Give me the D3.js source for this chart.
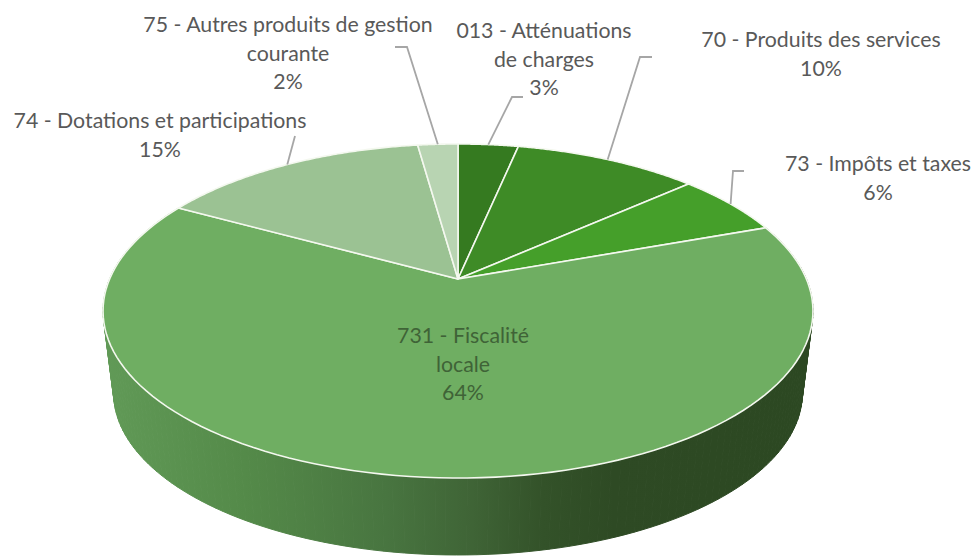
<!DOCTYPE html>
<html lang="fr">
<head>
  <meta charset="UTF-8">
  <title>Recettes de fonctionnement</title>
  <style>
  html, body { margin: 0; padding: 0; background: #fff; }
  svg { display: block; }
  .label { font: 21.3px Lato, sans-serif; fill: #595959; text-anchor: middle; }
  .leader { fill: none; stroke: #a6a6a6; stroke-width: 1.8px; }
  </style>
</head>
<body>
<script src="https://d3js.org/d3.v7.min.js"></script>
<script>
// values, slightly more precise than the printed percentages
var categories = ["013 - Atténuations de charges", "70 - Produits des services", "73 - Impôts et taxes",
  "731 - Fiscalité locale", "74 - Dotations et participations", "75 - Autres produits de gestion courante"];
var values = [3.3, 10.1, 6.1, 63.5, 14.8, 2.2];
var colors = ["#357a20", "#3e8b26", "#459f2a", "#6fae62", "#9bc293", "#b8d4b2"];

// how each category name is wrapped on the picture
var labelLines = [
  ["013 - Atténuations", "de charges"],
  ["70 - Produits des services"],
  ["73 - Impôts et taxes"],
  ["731 - Fiscalité", "locale"],
  ["74 - Dotations et participations"],
  ["75 - Autres produits de gestion", "courante"]
];
var labelX = [544, 821, 878, 463, 160, 288];
var labelY = [38, 47, 171, 343, 128, 32];
// elbow of the leader line, then its outer end (none for the big slice)
var leaderElbow = [[512, 97], [640, 57], [733, 171], null, null, [407, 47]];
var leaderEnd = [[523, 97], [652, 57], [744, 171], null, [295, 136], [395, 47]];

var width = 974, height = 556;
var lineHeight = 28.5;

var svg = d3.select("body").append("svg").attr("width", width).attr("height", height);

// perspective projection of the pie disc (u right, v towards the viewer)
var centerX = 458, tilt = 0.1916;
var topDisc = { y: 279, a: 348.4, b: 160.9 };
var bottomDisc = { y: 362, a: 338, b: 156 };

function project(disc, angle, r) {
  var u = r * Math.sin(angle), v = -r * Math.cos(angle);
  var w = 1 - tilt * v;
  return [centerX + disc.a * u / w, disc.y + disc.b * v / w];
}

function rim(disc, start, end, n) {
  return d3.range(0, n + 1).map(function(i) {
    return project(disc, start + (end - start) * i / n, 1);
  });
}

var pie = d3.pie().sort(null).value(function(d) { return d; });
var arcs = pie(values);
var line = d3.line();

// side wall, only the big slice faces the viewer
var gradient = svg.append("defs").append("linearGradient")
  .attr("id", "side")
  .attr("gradientUnits", "userSpaceOnUse")
  .attr("x1", 103).attr("x2", 813).attr("y1", 0).attr("y2", 0);
[[0, "#619a57"], [0.2, "#548a49"], [0.4, "#487540"], [0.52, "#3f6436"], [0.62, "#335229"], [0.72, "#2e4a24"], [1, "#2c4822"]]
  .forEach(function(s) {
    gradient.append("stop").attr("offset", s[0]).attr("stop-color", s[1]);
  });

// one quad per step, a single outline would cancel itself where the wall folds over
var front = arcs[3];
var wallSteps = 160;
var wallTop = rim(topDisc, front.startAngle, front.endAngle, wallSteps);
var wallBottom = rim(bottomDisc, front.startAngle, front.endAngle, wallSteps);
svg.append("g").attr("fill", "url(#side)").attr("stroke", "url(#side)").attr("stroke-width", 1)
  .selectAll("path")
  .data(d3.range(wallSteps))
  .enter().append("path")
  .attr("d", function(i) {
    return line([wallTop[i], wallTop[i + 1], wallBottom[i + 1], wallBottom[i]]) + "Z";
  });

// top face
svg.selectAll(".slice")
  .data(arcs)
  .enter().append("path")
  .attr("class", "slice")
  .attr("fill", function(d, i) { return colors[i]; })
  .attr("stroke", "#f4f8ef")
  .attr("stroke-width", 1.6)
  .attr("stroke-linejoin", "round")
  .attr("d", function(d) {
    return line([project(topDisc, 0, 0)].concat(rim(topDisc, d.startAngle, d.endAngle, 120))) + "Z";
  });

// leader lines
svg.selectAll(".leader")
  .data(arcs.filter(function(d, i) { return leaderEnd[i]; }))
  .enter().append("path")
  .attr("class", "leader")
  .attr("d", function(d) {
    var points = [project(topDisc, (d.startAngle + d.endAngle) / 2, 1)];
    if (leaderElbow[d.index]) points.push(leaderElbow[d.index]);
    points.push(leaderEnd[d.index]);
    return line(points);
  });

// labels
var percent = d3.format(".0f");
categories.forEach(function(c, i) {
  var text = svg.append("text")
    .attr("class", "label")
    .attr("y", labelY[i])
    .style("fill", i === 3 ? "#3f6337" : null);
  labelLines[i].concat(percent(values[i]) + "%").forEach(function(s, j) {
    text.append("tspan")
      .attr("x", labelX[i])
      .attr("dy", j === 0 ? 0 : lineHeight)
      .text(s);
  });
});
</script>
</body>
</html>
